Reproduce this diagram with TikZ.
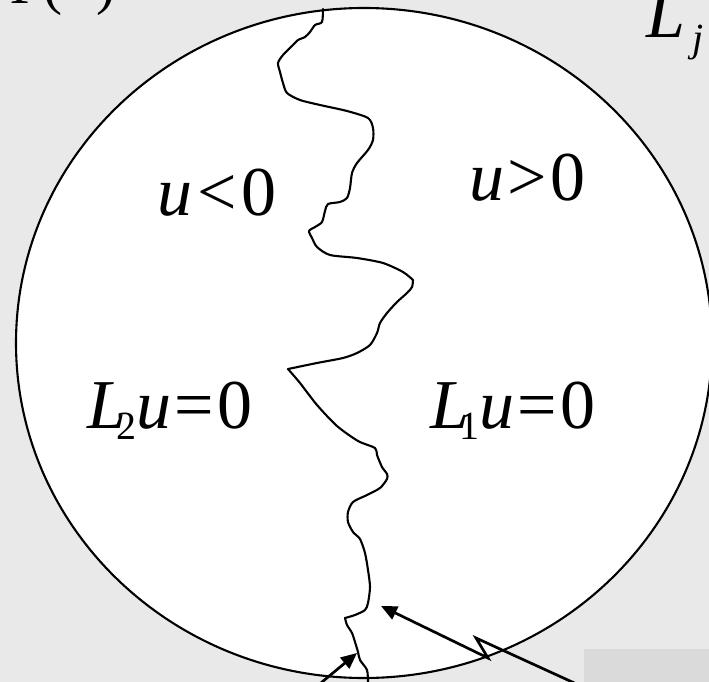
\documentclass[tikz,border=0pt]{standalone}
\usepackage{fontspec}
\setmainfont{Liberation Serif}
\usetikzlibrary{arrows.meta}
\definecolor{bg}{HTML}{E9E9E9}
\definecolor{boxgray}{HTML}{DADADA}
\tikzset{
  big/.style={font=\fontsize{70}{80}\selectfont, inner sep=0pt, anchor=base west},
  crack/.style={line width=2.1pt, line join=round, line cap=round},
  rim/.style={line width=2.1pt},
  pointer/.style={line width=2.7pt, -{Triangle[length=16pt,width=14pt]}},
}
\newcommand{\subnum}[1]{\raisebox{-0.17em}{\fontsize{40}{40}\selectfont #1}}
\begin{document}
\begin{tikzpicture}[x=1pt,y=-1pt]
\useasboundingbox (0,0) rectangle (709,682);
\clip (0,0) rectangle (709,682);
\fill[bg] (0,0) rectangle (709,682);
\fill[boxgray] (584,649) rectangle (709,690);
\draw[rim, fill=white] (364,343) ellipse [x radius=348, y radius=335];

% interface curve
\draw[crack] plot[smooth, tension=0.45] coordinates {(323,9) (322,22) (315,25) (310,32) (305,37) (298,40) (293,45) (283,55) (278,63) (280,72) (283,83) (287,93) (300,100) (320,105) (347,111) (368,118) (373,128) (373,140) (368,150) (357,163) (352,173) (350,188) (347,198) (340,202) (328,204) (325,211) (322,222) (315,227) (309,231) (312,238) (317,247) (330,255) (357,258) (383,263) (403,272) (413,280)};
\draw[crack] plot[smooth, tension=0.45] coordinates {(413,280) (412,287) (407,293) (397,302) (387,313) (380,323) (377,333) (370,345) (357,353) (343,358) (317,363) (288,369)};
\draw[crack] plot[smooth, tension=0.45] coordinates {(288,369) (300,383) (317,405) (337,426) (358,441) (375,448) (377,455) (382,467) (387,474) (387,479) (380,488) (367,495) (353,502) (348,512) (348,522) (353,532) (360,539) (365,553) (368,570) (370,587) (368,603) (365,610) (355,615) (345,618)};
\draw[crack] plot[smooth, tension=0.45] coordinates {(345,618) (347,625) (352,633) (355,642) (358,652) (360,660) (367,670) (368,682)};

% labels
\node[big] (gam) at (10,4) {\fontsize{57}{60}\selectfont Γ(\kern0.6em)};
\node[big] (lj) at (646,38) {\textit{L}\kern0.1em\raisebox{-0.2em}{\fontsize{40}{40}\selectfont\textit{j}}};
\node[big] (uneg) at (157,215) {\textit{u}\kern0.07em<\kern0.07em0};
\node[big] (upos) at (469,200) {\textit{u}\kern0.05em>\kern0.05em0};
\node[big] (ltwo) at (87,428) {\textit{L}\kern-0.14em\subnum{2}\textit{u}\kern0.05em=\kern0.05em0};
\node[big] (lone) at (430,428) {\textit{L}\kern-0.14em\subnum{1}\textit{u}\kern0.05em=\kern0.05em0};

% pointers
\coordinate (aones) at (310,692);
\coordinate (aonet) at (357,653);
\draw[pointer] (aones) -- (aonet);
\coordinate (atwos) at (605,697);
\coordinate (kone) at (476,638);
\coordinate (ktwo) at (488,658);
\coordinate (atwot) at (381,606);
\draw[pointer] (atwos) -- (kone) -- (ktwo) -- (atwot);
\end{tikzpicture}
\end{document}
